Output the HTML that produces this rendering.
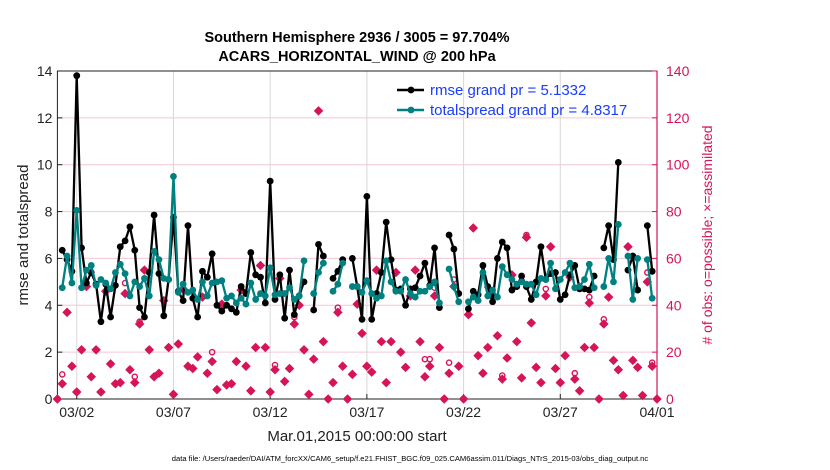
<!DOCTYPE html>
<html><head><meta charset="utf-8"><style>
html,body{margin:0;padding:0;background:#fff;}
svg{display:block;font-family:"Liberation Sans",sans-serif;}
</style></head><body>
<svg id="chart" width="830" height="470" viewBox="0 0 830 470"></svg>
<script>
const dayTickLabels=["03/02","03/07","03/12","03/17","03/22","03/27","04/01"];
const dayTickValues=[1,6,11,16,21,26,31];
const leftTicks=[0,2,4,6,8,10,12,14];
const rightTicks=[0,20,40,60,80,100,120,140];
const rmse=[null,6.35,5.95,5.45,13.8,6.45,4.95,5.4,4.9,3.3,4.9,3.5,4.85,6.5,6.75,7.35,6.35,3.9,3.5,5.4,7.85,5.35,3.55,5.1,7.75,4.6,4.2,7.4,4.3,3.5,5.45,5.2,6.2,4.0,3.75,4.0,3.85,3.7,4.8,4.5,6.25,5.3,5.2,4.1,9.3,4.25,5.3,3.45,5.5,3.6,4.4,5.0,null,3.8,6.6,6.1,null,5.15,5.45,5.95,null,6.0,4.8,3.4,8.65,3.4,4.5,5.4,7.55,5.95,4.65,4.7,4.0,4.7,4.75,5.25,5.8,4.85,6.45,3.9,null,7.0,6.4,4.5,null,3.85,4.6,4.45,5.7,4.8,4.15,6.0,6.7,6.45,4.65,4.8,5.25,4.8,4.25,5.0,6.5,5.1,5.35,5.4,4.25,4.45,5.3,5.7,4.7,4.7,4.65,5.25,null,6.45,7.4,5.95,10.1,null,5.5,6.1,4.65,null,7.4,5.45,null];
const spread=[null,4.75,6.1,4.95,8.05,4.75,5.5,5.7,4.85,5.1,4.95,4.7,5.4,5.75,5.35,4.4,5.0,4.8,5.15,4.4,6.3,5.95,5.15,5.1,9.5,4.55,4.9,4.55,4.65,4.25,5.0,4.4,4.95,5.0,5.05,4.3,4.4,4.1,4.3,4.05,4.95,4.25,4.5,4.4,5.6,4.45,4.5,4.5,4.75,4.25,4.4,5.9,null,4.5,5.4,5.8,null,4.6,4.9,5.8,null,4.8,4.8,4.55,5.05,4.5,4.3,4.4,5.9,5.0,4.6,4.6,5.1,4.5,4.35,4.6,4.6,4.8,5.0,4.1,null,5.55,4.8,4.15,null,4.15,4.35,4.2,5.4,4.4,4.65,4.35,5.65,5.3,5.1,4.9,5.0,4.9,4.9,4.45,5.15,5.1,5.8,4.7,5.1,5.4,5.8,4.75,4.8,5.1,5.75,4.75,null,4.8,6.0,5.0,7.45,null,6.1,4.25,6.0,null,5.95,4.3,null];
const obsPossible=[0,10.5,37,14,3,21,48,9.5,21,3,46,15,6.5,7,49.5,12.5,9.5,33,55,21,9.5,11,42,22,2,23.5,47,14,13,18,43.5,11,20,4,40.5,6,6.5,16,46.5,14,3.5,22,57,22,3,14.5,51.5,7.5,13,35,40,21,2,17,123,24.5,0,7,39,14,0,10.5,40.5,28,14,11.5,55,24.5,7,24.5,54,20,13.5,44,55,24.5,17,17,47.5,22,0,15.5,51,14,0,36,73,18.5,11,22,44,27,10,17.5,53,24.5,9,70,32.5,13.5,7,47,65,13,7,18.5,52,11,3.5,22,43.5,22,0,34,43.5,16.5,12.5,1.5,65,16.5,13.5,1.5,54,15.5,0];
const obsAssim=[0,6.5,37,14,3,21,48,9.5,21,3,46,15,6.5,7,45,12.5,7,32,55,21,9.5,11,42,22,2,23.5,47,14,13,18,43.5,11,16,4,40.5,6,6.5,16,46.5,14,3.5,22,57,22,3,12.5,51.5,7.5,13,32,40,21,2,17,123,24.5,0,7,37,14,0,10.5,40.5,28,14,11.5,55,24.5,7,24.5,54,20,13.5,44,55,24.5,9.5,14,44,22,0,11,48,14,0,36,73,18.5,11,22,44,27,8.5,17.5,53,24.5,9,69,32.5,13.5,7,44,65,13,7,18.5,52,8.5,3.5,22,41,22,0,32,43.5,16.5,12.5,1.5,65,16.5,13.5,1.5,50,14,0];

const NS="http://www.w3.org/2000/svg";
const svg=document.getElementById('chart');
const X0=57.4,X1=657,Y0=399,Y1=71;
const xDay=d=>X0+(X1-X0)*d/31;
const xIdx=i=>xDay(i*0.25);
const yL=v=>Y0-(Y0-Y1)*v/14;
const yR=v=>Y0-(Y0-Y1)*v/140;
const PINK="#d6145a",TEAL="#008080";
function mk(tag,attrs,parent){const e=document.createElementNS(NS,tag);for(const k in attrs)e.setAttribute(k,attrs[k]);(parent||svg).appendChild(e);return e;}

const grid=mk('g',{});


rightTicks.forEach(v=>{if(v>0&&v<140){const l=mk('line',{x1:X0,x2:X1,y1:yR(v),y2:yR(v),stroke:'#f3c6d6','stroke-width':1},grid);

}});
dayTickValues.forEach(d=>{if(d<31){const l=mk('line',{x1:xDay(d),x2:xDay(d),y1:Y1,y2:Y0,stroke:'#d8d8d8','stroke-width':1},grid);

}});

const box=mk('rect',{x:X0,y:Y1,width:X1-X0,height:Y0-Y1,fill:'none',stroke:'#222','stroke-width':1});


const rax=mk('line',{x1:X1,x2:X1,y1:Y1,y2:Y0,stroke:PINK,'stroke-width':1.2});



leftTicks.forEach(v=>{
 const t=mk('line',{x1:X0,x2:X0+5,y1:yL(v),y2:yL(v),stroke:'#222'});
 
 
 const tx=mk('text',{x:X0-5,y:yL(v)+5,'text-anchor':'end','font-size':14,fill:'#222'});
 tx.textContent=v;
 
 
});
rightTicks.forEach(v=>{
 const t=mk('line',{x1:X1-5,x2:X1,y1:yR(v),y2:yR(v),stroke:PINK});
 
 
 const tx=mk('text',{x:X1+9,y:yR(v)+5,'text-anchor':'start','font-size':14,fill:PINK});
 tx.textContent=v;
 
 
});
dayTickValues.forEach((d,k)=>{
 const t=mk('line',{x1:xDay(d),x2:xDay(d),y1:Y0,y2:Y0-5,stroke:'#222'});
 
 
 const tx=mk('text',{x:xDay(d),y:Y0+18,'text-anchor':'middle','font-size':14,fill:'#222'});
 tx.textContent=dayTickLabels[k];
 
 
});

const obsG=mk('g',{});


obsPossible.forEach((v,i)=>{
 const c=mk('circle',{cx:xIdx(i),cy:yR(v),r:2.6,fill:'none',stroke:PINK,'stroke-width':1.4},obsG);
 
 
});
obsAssim.forEach((v,i)=>{
 const x=xIdx(i),y=yR(v);
 const p=mk('path',{d:`M${x} ${y-4.2}L${x+4.2} ${y}L${x} ${y+4.2}L${x-4.2} ${y}Z`,fill:PINK,stroke:PINK,'stroke-width':0.8},obsG);
 
 
});

function series(arr,color,name){
 const g=mk('g',{});
 
 
 let d='',pen=false;
 arr.forEach((v,i)=>{if(v==null){pen=false;return;}d+=(pen?'L':'M')+xIdx(i).toFixed(1)+' '+yL(v).toFixed(1);pen=true;});
 mk('path',{d:d,fill:'none',stroke:color,'stroke-width':2.3,'stroke-linejoin':'round'},g);
 arr.forEach((v,i)=>{if(v==null)return;
  const c=mk('circle',{cx:xIdx(i),cy:yL(v),r:3.4,fill:color},g);
  
  
 });
}
series(rmse,'#000','rmse-series');
series(spread,TEAL,'totalspread-series');

const lg=mk('g',{});


[['#000','rmse grand pr = 5.1332',90],[TEAL,'totalspread grand pr = 4.8317',110]].forEach(([c,t,y])=>{
 mk('line',{x1:397,x2:424,y1:y,y2:y,stroke:c,'stroke-width':2.4},lg);
 mk('circle',{cx:411,cy:y,r:3.4,fill:c},lg);
 const tx=mk('text',{x:430,y:y+5,'font-size':15,fill:'#1a3cff'},lg);
 tx.textContent=t;
 
 
});

function txt(s,attrs,name){const t=mk('text',attrs);t.textContent=s;
 
 return t;}
txt('Southern Hemisphere 2936 / 3005 = 97.704%',{x:357,y:42,'text-anchor':'middle','font-size':14.5,'font-weight':'bold',fill:'#000'},'chart-title');
txt('ACARS_HORIZONTAL_WIND @ 200 hPa',{x:357,y:61,'text-anchor':'middle','font-size':14.5,'font-weight':'bold',fill:'#000'},'chart-subtitle');
txt('Mar.01,2015 00:00:00 start',{x:357,y:441,'text-anchor':'middle','font-size':15,fill:'#222'},'x-axis-title');
txt('rmse and totalspread',{x:0,y:0,'text-anchor':'middle','font-size':15,fill:'#222',transform:'translate(28,235) rotate(-90)'},'y-axis-title');
txt('# of obs: o=possible; \u00d7=assimilated',{x:0,y:0,'text-anchor':'middle','font-size':14,fill:PINK,transform:'translate(712,235) rotate(-90)'},'right-axis-title');
txt('data file: /Users/raeder/DAI/ATM_forcXX/CAM6_setup/f.e21.FHIST_BGC.f09_025.CAM6assim.011/Diags_NTrS_2015-03/obs_diag_output.nc',{x:410,y:461,'text-anchor':'middle','font-size':7.6,fill:'#000'},'data-file-footnote');
</script>
</body></html>
